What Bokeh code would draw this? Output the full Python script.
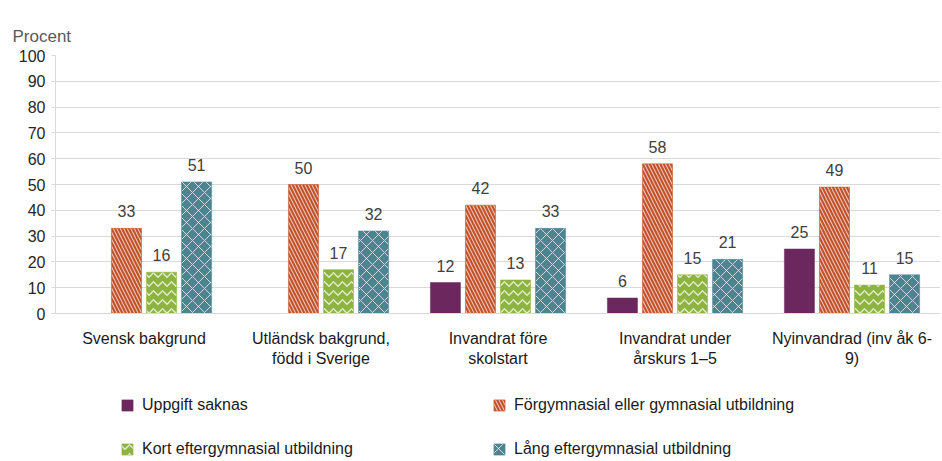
import math
from bokeh.plotting import figure
from bokeh.layouts import column
from bokeh.models import ColumnDataSource, FactorRange, Legend, LegendItem, FixedTicker, Range1d
from bokeh.transform import dodge
from bokeh.core.properties import value
from bokeh.embed import file_html
from bokeh.resources import INLINE

categories = ["Svensk bakgrund", "Utländsk bakgrund,\nfödd i Sverige", "Invandrat före\nskolstart",
              "Invandrat under\nårskurs 1–5", "Nyinvandrad (inv åk 6-\n9)"]
series_names = ["Uppgift saknas", "Förgymnasial eller gymnasial utbildning",
                "Kort eftergymnasial utbildning", "Lång eftergymnasial utbildning"]
uppgift_saknas = [math.nan, math.nan, 12, 6, 25]
forgymnasial = [33, 50, 42, 58, 49]
kort_efter = [16, 17, 13, 15, 11]
lang_efter = [51, 32, 33, 21, 15]
y_ticks = [0, 10, 20, 30, 40, 50, 60, 70, 80, 90, 100]

series_values = [uppgift_saknas, forgymnasial, kort_efter, lang_efter]
colors = ["#6C285E", "#C2512A", "#8DB340", "#4C8591"]
hatches = [" ", "\\", "horizontal_wave", "x"]
hatch_scales = [6, 7, 9, 12]
hatch_weights = [1, 1.1, 1.3, 1.0]
hatch_alphas = [0.8, 0.65, 0.75, 0.7]
offsets = [-0.297, -0.099, 0.099, 0.297]
bar_w = 0.17

FONT = "Liberation Sans"

p = figure(x_range=FactorRange(*categories, range_padding=0), y_range=(0, 100),
           frame_width=885, frame_height=258, output_backend="svg", toolbar_location=None,
           min_border_left=55, min_border_right=0, min_border_top=55, min_border_bottom=62)
p.outline_line_color = None

p.title.text = "Procent"
p.title.text_font = FONT
p.title.text_font_size = "17px"
p.title.text_font_style = "normal"
p.title.text_color = "#595959"
p.title.align = "left"
p.title.offset = -43
p.title.standoff = 20

# legend-only figure below the chart
lg = figure(width=940, height=86, x_range=Range1d(0, 1), y_range=Range1d(0, 1),
            output_backend="svg", toolbar_location=None,
            min_border_left=0, min_border_right=0, min_border_top=0, min_border_bottom=0)
lg.axis.visible = False
lg.grid.visible = False
lg.outline_line_color = None

items = []
for name, vals, col, h, hs, hw, ha, off in zip(series_names, series_values, colors, hatches,
                                               hatch_scales, hatch_weights, hatch_alphas, offsets):
    style = dict(fill_color=col, line_color=col, line_width=0.5,
                 hatch_pattern=h, hatch_color="white", hatch_alpha=ha,
                 hatch_scale=hs, hatch_weight=hw)
    src = ColumnDataSource(dict(cat=categories, val=vals))
    p.vbar(x=dodge("cat", off, range=p.x_range), top="val", width=bar_w, source=src, **style)
    # swatch renderer kept outside the legend figure's visible range
    lr = lg.vbar(x=[5], top=[5], bottom=[4], width=0.1, **style)
    items.append(LegendItem(label=name, renderers=[lr]))
    lab_c = [c for c, v in zip(categories, vals) if not math.isnan(v)]
    lab_v = [v for v in vals if not math.isnan(v)]
    lsrc = ColumnDataSource(dict(cat=lab_c, val=lab_v, txt=[str(int(v)) for v in lab_v]))
    p.text(x=dodge("cat", off, range=p.x_range), y="val", text="txt", source=lsrc,
           text_align="center", text_baseline="bottom", y_offset=-11,
           text_font=value(FONT), text_font_size="16px", text_color="#404040")

p.ygrid.ticker = FixedTicker(ticks=y_ticks)
p.yaxis.ticker = FixedTicker(ticks=y_ticks)
p.ygrid.grid_line_color = "#D9D9D9"
p.ygrid.grid_line_width = 1
p.xgrid.grid_line_color = None

p.yaxis.axis_line_color = "#D9D9D9"
p.yaxis.major_tick_line_color = "#D9D9D9"
p.yaxis.major_tick_out = 4
p.yaxis.major_tick_in = 0
p.yaxis.minor_tick_line_color = None
p.yaxis.major_label_text_font = FONT
p.yaxis.major_label_text_font_size = "16px"
p.yaxis.major_label_text_color = "#262626"
p.yaxis.major_label_standoff = 6

p.xaxis.axis_line_color = "#D9D9D9"
p.xaxis.major_tick_line_color = None
p.xaxis.minor_tick_line_color = None
p.xaxis.major_label_text_font = FONT
p.xaxis.major_label_text_font_size = "16px"
p.xaxis.major_label_text_color = "#1A1A1A"
p.xaxis.major_label_standoff = 10
p.xaxis.major_label_orientation = "horizontal"

legend_items = [items[0], items[2], items[1], items[3]]
legend = Legend(items=legend_items, ncols=2, location=(65, 2),
                label_text_font=FONT, label_text_font_size="16px", label_text_color="#1A1A1A",
                glyph_width=14, glyph_height=14, label_standoff=8, label_width=326,
                label_height=20, spacing=24, padding=0, margin=0,
                border_line_color=None, background_fill_alpha=0)
lg.add_layout(legend, "center")

layout = column(p, lg, spacing=0)
open("out.html", "w").write(file_html(layout, INLINE))
